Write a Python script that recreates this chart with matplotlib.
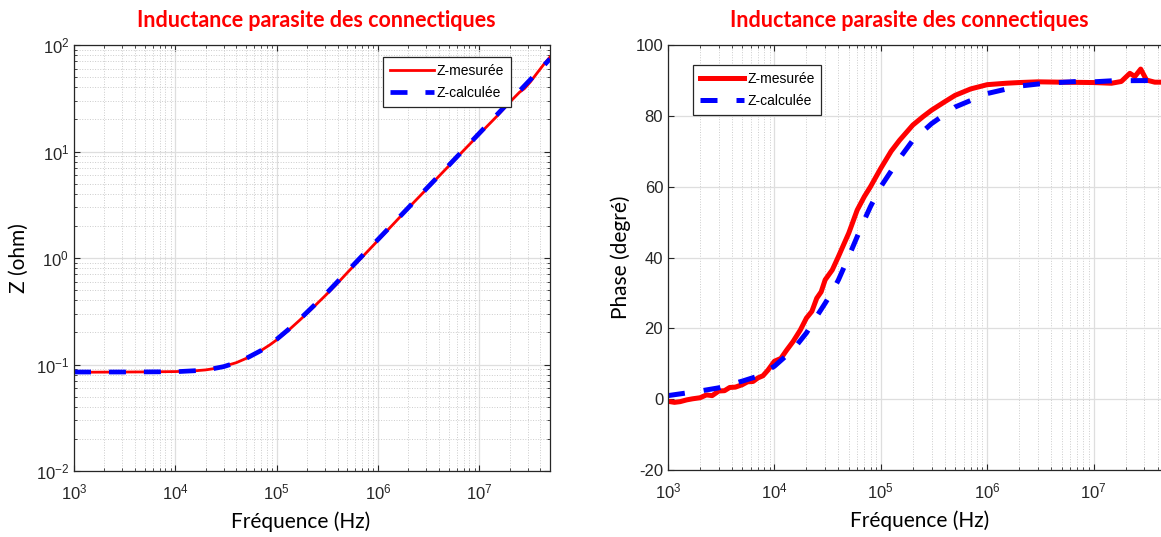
import matplotlib
matplotlib.use('Agg')
import matplotlib.pyplot as plt
import matplotlib.ticker as mticker
import numpy as np

# Module |Z| (ohm)
f_zm = [1e3, 2e3, 5e3, 1e4, 1.5e4, 2e4, 2.5e4, 3e4, 4e4, 5e4, 6e4, 7e4, 8.5e4,
        1e5, 1.3e5, 1.7e5, 2.2e5, 3e5, 4e5, 5e5, 7e5, 1e6, 1.5e6, 2e6, 3e6,
        5e6, 7e6, 1e7, 1.5e7, 2e7, 2.5e7, 2.8e7, 3.2e7, 3.7e7, 4.3e7, 5e7]
z_mes = [0.0845, 0.0848, 0.0852, 0.0858, 0.087, 0.089, 0.092, 0.096, 0.104,
         0.114, 0.125, 0.135, 0.152, 0.17, 0.208, 0.262, 0.33, 0.44, 0.58,
         0.73, 1.02, 1.46, 2.2, 2.95, 4.4, 7.3, 10.2, 14.5, 21.5, 29, 36, 39,
         45, 54, 65, 77]

f_zc = [1e3, 3e3, 1e4, 2e4, 3e4, 4e4, 5e4, 7e4, 1e5, 1.5e5, 2e5, 3e5, 5e5,
        7e5, 1e6, 2e6, 3e6, 5e6, 1e7, 2e7, 3e7, 4e7, 5e7]
z_cal = [0.085, 0.085, 0.0855, 0.0885, 0.0955, 0.104, 0.114, 0.135, 0.172,
         0.238, 0.31, 0.45, 0.75, 1.05, 1.49, 2.97, 4.46, 7.4, 14.8, 29.6,
         44.4, 59, 74]

# Phase (degre)
f_pm = [1e3, 1.15e3, 1.3e3, 1.5e3, 1.7e3, 2e3, 2.3e3, 2.6e3, 3e3, 3.4e3,
        3.8e3, 4.3e3, 5e3, 5.6e3, 6.3e3, 7e3, 7.8e3, 8.7e3, 1e4, 1.15e4,
        1.3e4, 1.5e4, 1.75e4, 2e4, 2.25e4, 2.5e4, 2.75e4, 3e4, 3.5e4, 4e4,
        4.5e4, 5e4, 6e4, 7e4, 8e4, 1e5, 1.25e5, 1.5e5, 2e5, 2.5e5, 3e5,
        4e5, 5e5, 7e5, 1e6, 1.5e6, 2e6, 3e6, 5e6, 1e7, 1.47e7, 1.82e7,
        2.19e7, 2.44e7, 2.77e7, 3.14e7, 3.76e7, 5e7]
ph_mes = [-0.6, -0.9, -0.7, -0.2, 0.1, 0.4, 1.2, 1.0, 2.3, 2.4, 3.3, 3.4, 4.1,
          4.9, 5.0, 6.0, 6.6, 8.2, 10.7, 11.5, 13.8, 16.3, 19.5, 22.9, 24.8,
          28.5, 30.3, 33.7, 36.5, 40.3, 43.8, 46.9, 53.4, 57.2, 60.0, 65.2,
          70.0, 73.1, 77.4, 79.8, 81.6, 84.0, 85.8, 87.6, 88.8, 89.2, 89.4,
          89.6, 89.5, 89.4, 89.2, 89.7, 92.0, 91.1, 93.2, 90.1, 89.5, 89.5]

f_pc = [1e3, 2e3, 3e3, 5e3, 7e3, 1e4, 1.5e4, 2e4, 2.5e4, 3e4, 3.5e4, 4e4,
        5e4, 6e4, 7e4, 8e4, 1e5, 1.5e5, 2e5, 3e5, 5e5, 1e6, 2e6, 3.5e6, 7e6,
        1e7, 1.5e7, 5e7]
ph_cal = [1.0, 2.3, 3.2, 5.1, 6.5, 9.3, 14.0, 18.7, 23.4, 27.1, 30.4, 33.7,
          40.3, 45.9, 50.6, 54.4, 60.0, 68.0, 73.1, 77.8, 82.5, 86.3, 88.4,
          89.2, 89.7, 89.6, 89.9, 90.0]

titre = 'Inductance parasite des connectiques'
xlab = 'Fréquence (Hz)'

plt.rcParams['font.family'] = ['Liberation Sans', 'DejaVu Sans']
plt.rcParams['mathtext.fontset'] = 'custom'
plt.rcParams['mathtext.rm'] = 'Liberation Sans'
plt.rcParams['mathtext.it'] = 'Liberation Sans'
plt.rcParams['axes.unicode_minus'] = False

fig = plt.figure(figsize=(11.61, 5.37), dpi=100)
ax1 = fig.add_axes([74 / 1161, 66 / 537, 476 / 1161, 426 / 537])
ax2 = fig.add_axes([668 / 1161, 67 / 537, 500 / 1161, 425 / 537])

AXC = '#262626'


def style(ax, minor_y):
    ax.set_xscale('log')
    ax.set_xlim(1e3, 5e7)
    ax.tick_params(which='both', direction='in', top=True, right=True,
                   colors=AXC, labelsize=12, labelcolor=AXC)
    ax.tick_params(which='major', length=4)
    ax.tick_params(which='minor', length=2.5)
    ax.tick_params(axis='x', pad=8)
    for s in ax.spines.values():
        s.set_color(AXC)
        s.set_linewidth(0.9)
    ax.grid(True, which='major', color='#dedede', lw=0.9, ls='-')
    ax.grid(True, which='minor', axis='x', color='#cccccc', lw=0.7, ls=':')
    if minor_y:
        ax.grid(True, which='minor', axis='y', color='#cccccc', lw=0.7, ls=':')
    ax.set_axisbelow(True)


# --- module ---
style(ax1, True)
ax1.set_yscale('log')
ax1.set_ylim(1e-2, 1e2)
ax1.plot(f_zm, z_mes, color='#ff0000', lw=2.0, label='Z-mesurée')
ax1.plot(f_zc, z_cal, color='#0000ff', lw=3.4, ls=(0, (3.6, 3.8)),
         label='Z-calculée')
ax1.set_title(titre, color='#ff0000', fontsize=15.5, fontweight='bold',
              family='Lato', pad=13, x=0.509)
ax1.set_xlabel(xlab, fontsize=15, family='Lato', labelpad=7, x=0.477)
ax1.set_ylabel('Z (ohm)', fontsize=15, family='Lato', labelpad=5)
leg = ax1.legend(loc='upper left', bbox_to_anchor=(0.634, 0.988),
                 fontsize=10, handlelength=3.2, handletextpad=0.2,
                 fancybox=False, framealpha=1, edgecolor=AXC,
                 borderpad=0.5, labelspacing=0.55)
leg.get_frame().set_linewidth(0.9)

# --- phase ---
style(ax2, False)
ax2.set_ylim(-20, 100)
ax2.yaxis.set_major_locator(mticker.MultipleLocator(20))
ax2.plot(f_pm, ph_mes, color='#ff0000', lw=3.6, label='Z-mesurée')
ax2.plot(f_pc, ph_cal, color='#0000ff', lw=3.6, ls=(0, (3.4, 3.8)),
         label='Z-calculée')
ax2.set_title(titre, color='#ff0000', fontsize=15.5, fontweight='bold',
              family='Lato', pad=13, x=0.482)
ax2.set_xlabel(xlab, fontsize=15, family='Lato', labelpad=7, x=0.504)
ax2.set_ylabel('Phase (degré)', fontsize=15, family='Lato', labelpad=3)
leg = ax2.legend(loc='upper left', bbox_to_anchor=(0.036, 0.969),
                 fontsize=10, handlelength=3.2, handletextpad=0.2,
                 fancybox=False, framealpha=1, edgecolor=AXC,
                 borderpad=0.5, labelspacing=0.55)
leg.get_frame().set_linewidth(0.9)

fig.savefig('out.png', dpi=100)
